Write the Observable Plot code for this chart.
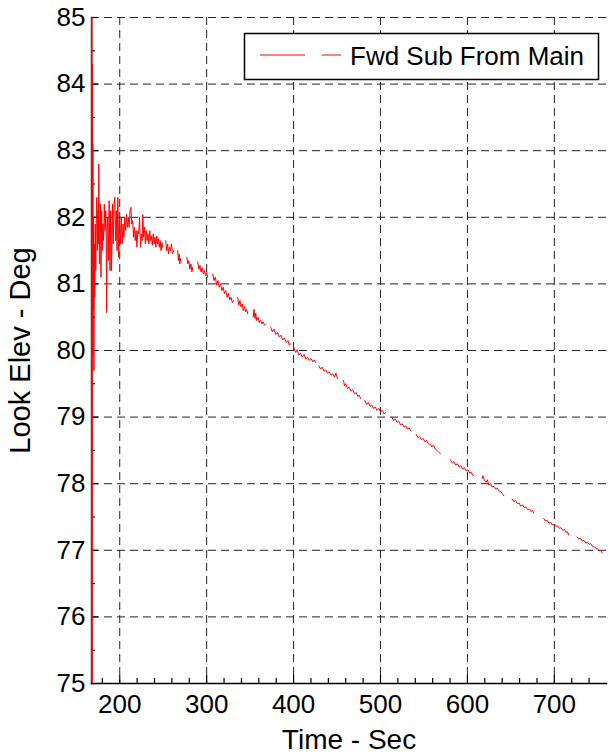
<!DOCTYPE html>
<html><head><meta charset="utf-8">
<script src="https://cdn.jsdelivr.net/npm/d3@7"></script>
<script src="https://cdn.jsdelivr.net/npm/@observablehq/plot@0.6"></script>
<style>
html,body{margin:0;padding:0;background:#fff;}
svg{display:block;}
</style></head><body><div id="chart"></div>
<script>
const xTitle = "Time - Sec";
const yTitle = "Look Elev - Deg";
const seriesName = "Fwd Sub From Main";
const xDomain = [167.5, 760];
const yDomain = [75, 85];
const xTicks = [200, 300, 400, 500, 600, 700];
const xMinorTicks = [180, 220, 240, 260, 280, 320, 340, 360, 380, 420, 440, 460, 480, 520, 540, 560, 580, 620, 640, 660, 680, 720, 740];
const yTicks = [75, 76, 77, 78, 79, 80, 81, 82, 83, 84, 85];
const yMinorTicks = [75.5, 76.5, 77.5, 78.5, 79.5, 80.5, 81.5, 82.5, 83.5, 84.5];

// [time (s), look elevation (deg)] — each array is one unbroken stretch of the trace
const segEarly = [
[167.6,66],[167.9,88],[168.2,73],[168.5,84.3],[168.8,79.9],[169.1,83.1],[169.5,80.6],[169.9,82.0],[170.3,79.7],[170.7,81.6],
[171.2,80.8],[171.8,81.9],[172.4,81.2],[173.0,82.0],[173.6,82.3],[174.2,81.5],[174.9,82.1],[175.4,81.6],[175.9,82.8],[176.6,81.3],
[177.3,81.8],[177.8,82.2],[178.4,81.1],[179.2,82.1],[179.9,81.5],[180.6,81.9],[181.4,81.65],[182.2,82.2],[183.0,81.8],[183.9,82.1],
[184.4,81.7],[184.9,80.57],[185.5,81.9],[186.2,82.0],[186.9,81.35],[187.8,82.25],[188.8,81.2],[189.6,82.1],[190.6,81.2],[191.6,82.2],
[192.5,81.6],[193.4,82.2],[194.3,82.3],[195.2,81.65],[196.1,82.1],[196.9,81.5],[197.8,82.3],[198.8,81.4],[199.8,82.0],[200.8,81.6],
[201.8,82.0],[202.8,81.6],[203.8,81.9],[204.8,81.7],[205.8,82.0],[206.8,81.8],[207.8,82.05],[208.8,81.85],[209.8,82.0],[210.8,81.85],
[211.8,82.1],[212.8,82.15],[213.8,81.9],[214.8,81.95],[215.8,81.7],[216.8,81.85],[217.8,81.65],[218.8,81.8],[219.8,81.55],[220.8,81.8],
[221.8,81.75],[222.8,82.0],[223.8,81.55],[224.8,81.75],[225.8,81.65],[226.5,82.04],[227.5,81.7],[228.5,81.85],[229.5,81.6],[230.5,81.8],
[231.5,81.65],[232.5,81.75],[233.5,81.6],[234.5,81.8],[235.5,81.65],[236.5,81.72],[237.5,81.58],[238.5,81.75],[239.5,81.6],[240.5,81.7],
[241.5,81.55],[242.5,81.72],[243.5,81.6],[244.5,81.68],[245.5,81.55],[246.5,81.65],[247.5,81.5],[248.5,81.62],[249.3,81.55]
];
const segB = [[252.9,81.65],[254.0,81.5],[255.1,81.6],[256.2,81.45],[257.3,81.55],[258.4,81.5],[259.5,81.6],[260.6,81.45],[262.1,81.5]];
const segC = [[266.7,81.5],[267.5,81.35],[268.3,81.45],[269.2,81.3],[270.1,81.38]];
const segD = [[277.1,81.4],[278.3,81.3],[279.5,81.35],[280.7,81.22],[281.9,81.3],[283.0,81.18],[284.0,81.25]];
const segE = [[289.7,81.33],[291.0,81.22],[292.3,81.28],[293.6,81.18],[294.9,81.24],[296.2,81.15],[297.5,81.2],[298.8,81.12],[300.0,81.17],[301.2,81.1]];
const segF = [[307.0,81.15],[308.5,81.05],[310.0,81.1],[311.5,80.98],[313.0,81.05],[314.5,80.95],[316.0,81.0],[317.5,80.9],[319.0,80.95],
[320.5,80.85],[322.0,80.9],[323.5,80.8],[325.0,80.86],[326.5,80.76],[328.0,80.8],[329.5,80.72],[331.0,80.75]];
const segG = [[335.7,80.8],[337.0,80.68],[338.3,80.75],[339.6,80.65],[340.9,80.7],[342.2,80.6],[343.5,80.66],[344.8,80.58],[346.0,80.62],[347.2,80.55]];
const segH = [[353.5,80.5],[354.5,80.62],[355.5,80.48],[356.5,80.56],[357.5,80.45],[359.0,80.5],[360.5,80.42],[362.0,80.46],[363.5,80.4],
[365.0,80.43],[366.5,80.38],[368.0,80.4]];
const segI = [[373.6,80.35],[375.5,80.28],[377.5,80.32],[379.5,80.24],[381.5,80.27],[383.5,80.2],[385.5,80.23],[387.5,80.16],[389.5,80.19],
[391.5,80.12],[393.5,80.15],[395.0,80.08],[396.6,80.1]];
const segJ = [[400.4,80.04],[402.3,79.97],[404.2,80.01],[406.1,79.93],[408.0,79.96],[410.0,79.9],[412.0,79.94],[414.0,79.87],[416.0,79.9],
[418.0,79.85],[420.0,79.88],[422.0,79.83],[423.6,79.86],[425.3,79.82]];
const segK = [[429.1,79.77],[431.0,79.72],[433.0,79.75],[435.0,79.69],[437.0,79.71],[439.0,79.66],[441.0,79.68],[443.0,79.63],[445.0,79.65],
[447.0,79.6],[448.8,79.66],[450.6,79.58]];
const segL = [[457.5,79.55],[458.5,79.47],[460.0,79.5],[462.0,79.43],[464.0,79.45],[466.0,79.39],[468.0,79.41],[470.0,79.35],[472.0,79.37],
[474.0,79.31],[475.5,79.33],[477.0,79.28]];
const segM = [[482.0,79.25],[484.0,79.19],[486.0,79.22],[488.0,79.16],[490.0,79.18],[492.0,79.13],[494.0,79.15],[496.0,79.1],[498.0,79.13],
[500.0,79.08],[502.0,79.1],[504.0,79.05],[506.0,79.07]];
const segN = [[513.0,79.0],[515.0,78.95],[517.0,78.97],[519.0,78.92],[521.0,78.94],[523.0,78.88],[525.0,78.9],[527.0,78.85],[529.0,78.87],
[531.0,78.82],[533.0,78.84],[535.0,78.79]];
const segO = [[541.0,78.74],[543.0,78.69],[545.0,78.71],[547.0,78.66],[549.0,78.68],[551.0,78.63],[553.0,78.65],[555.0,78.6],[557.5,78.59],
[559.0,78.55],[561.0,78.58],[563.0,78.52],[565.0,78.5],[567.0,78.47],[569.0,78.45]];
const segP = [[580.5,78.36],[582.5,78.31],[584.5,78.33],[586.5,78.28],[588.5,78.3],[590.5,78.25],[592.5,78.27],[594.5,78.22],[596.5,78.24],
[598.5,78.19],[600.5,78.21],[602.5,78.16],[604.5,78.17],[606.0,78.13],[607.3,78.12]];
const segQ = [[617.0,78.08],[618.0,78.12],[619.5,78.05],[621.5,78.02],[623.0,78.06],[624.5,77.98],[626.5,78.0],[628.5,77.95],[630.5,77.96],
[632.5,77.92],[634.5,77.93],[636.5,77.89],[638.5,77.88],[640.2,77.85],[641.8,77.82]];
const segR = [[651.4,77.77],[653.4,77.73],[655.4,77.75],[657.4,77.7],[659.4,77.71],[661.4,77.66],[663.4,77.68],[665.4,77.64],[667.4,77.65],
[669.4,77.61],[671.4,77.62],[673.4,77.58],[674.8,77.6],[676.2,77.56]];
const segS = [[687.7,77.48],[689.7,77.44],[691.7,77.45],[693.7,77.41],[695.7,77.42],[697.7,77.38],[699.7,77.39],[701.7,77.36],[703.7,77.37],
[705.7,77.33],[707.7,77.34],[709.7,77.3],[711.7,77.31],[713.7,77.27],[715.1,77.28],[716.5,77.23]];
const segT = [[726.1,77.2],[728.0,77.17],[730.0,77.18],[732.0,77.14],[734.0,77.15],[736.0,77.11],[738.0,77.12],[740.0,77.09],[742.0,77.1],
[744.0,77.06],[746.0,77.05],[748.0,77.03],[750.0,77.02],[752.0,76.99],[753.5,77.0],[754.8,76.96]];

const segments = [segEarly, segB, segC, segD, segE, segF, segG, segH, segI, segJ, segK, segL, segM, segN, segO, segP, segQ, segR, segS, segT];

const data = [];
segments.forEach((seg, i) => {
  if (i > 0) data.push({t: NaN, v: NaN});
  seg.forEach(([t, v]) => data.push({t, v}));
});

const FONT = "Liberation Sans, Arial, Helvetica, sans-serif";
const gridStyle = {stroke: "#222", strokeOpacity: 1, strokeWidth: 1, strokeDasharray: "8,5"};

const svg = Plot.plot({
  width: 610,
  height: 756,
  marginLeft: 91,
  marginRight: 4,
  marginTop: 17,
  marginBottom: 73,
  style: {fontFamily: FONT, background: "#fff", color: "#000"},
  x: {domain: xDomain},
  y: {domain: yDomain},
  marks: [
    Plot.gridX(xTicks, gridStyle),
    Plot.gridY(yTicks, gridStyle),
    Plot.frame({anchor: "left", stroke: "#333", strokeWidth: 1.5}),
    Plot.frame({anchor: "bottom", stroke: "#000", strokeWidth: 1.5}),
    Plot.axisX(xTicks, {tickSize: -8, fill: "none", stroke: "#000", strokeWidth: 1.2}),
    Plot.axisX(xMinorTicks, {tickSize: -5, fill: "none", stroke: "#000", strokeWidth: 1.2}),
    Plot.axisY(yTicks, {tickSize: -7, fill: "none", stroke: "#000", strokeWidth: 1.2}),
    Plot.axisY(yMinorTicks, {tickSize: -4, fill: "none", stroke: "#000", strokeWidth: 1.2}),
    Plot.axisX(xTicks, {tickSize: 0, tickPadding: 11, fontSize: 26, label: null, fill: "#000", tickFormat: "d"}),
    Plot.axisY(yTicks, {tickSize: 0, tickPadding: 6, fontSize: 26, label: null, fill: "#000", tickFormat: "d"}),
    Plot.line(data, {x: "t", y: "v", stroke: "#ff0000", strokeWidth: 1, clip: true}),
    Plot.text([xTitle], {text: d => d, frameAnchor: "bottom", textAnchor: "middle", lineAnchor: "middle", dy: 57, fontSize: 28, fill: "#000"}),
    Plot.text([yTitle], {text: d => d, frameAnchor: "left", textAnchor: "middle", lineAnchor: "middle", dx: -71, rotate: -90, fontSize: 29, fill: "#000"})
  ]
});

// legend box (top right, inside the plot area)
const lg = d3.select(svg).append("g").attr("font-family", FONT);
lg.append("rect").attr("x", 244.5).attr("y", 33.5).attr("width", 354).attr("height", 46)
  .attr("fill", "#fff").attr("stroke", "#000").attr("stroke-width", 1.5);
lg.append("line").attr("x1", 260).attr("x2", 305).attr("y1", 55).attr("y2", 55).attr("stroke", "#ff0000").attr("stroke-width", 1);
lg.append("line").attr("x1", 322).attr("x2", 341).attr("y1", 55).attr("y2", 55).attr("stroke", "#ff0000").attr("stroke-width", 1);
lg.append("text").attr("x", 350).attr("y", 65).attr("font-size", 26).attr("text-anchor", "start").attr("fill", "#000").text(seriesName);

document.getElementById("chart").appendChild(svg);
</script></body></html>
